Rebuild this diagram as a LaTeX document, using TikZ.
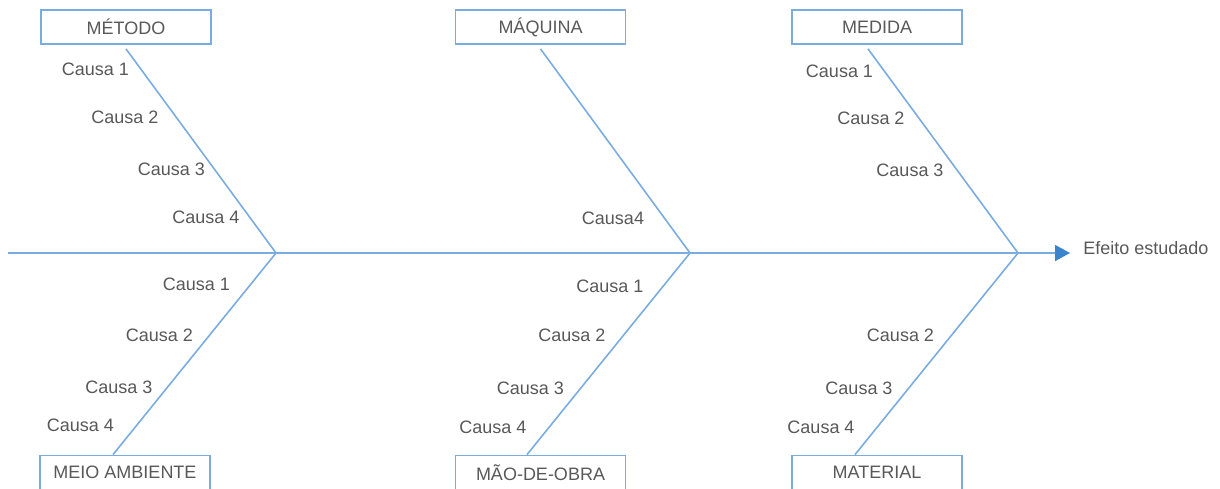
\documentclass[tikz,border=0pt]{standalone}
\definecolor{boneBlue}{RGB}{122,172,224}
\definecolor{headBlue}{RGB}{58,132,205}
\definecolor{textGray}{RGB}{88,88,88}
\usepackage{fontspec}
\setmainfont{Liberation Sans}
\usepackage{tikz}
\usetikzlibrary{arrows.meta,positioning}

\begin{document}
\begin{tikzpicture}[x=0.5pt,y=-0.5pt,
    catbox/.style={draw=boneBlue, line width=0.9pt, minimum width=85pt, minimum height=17pt,
                   inner sep=0pt, font=\fontsize{9}{11}\selectfont, text=textGray},
    causa/.style={font=\fontsize{9}{11}\selectfont, text=textGray, inner sep=0pt},
    bone/.style={draw=boneBlue, line width=0.8pt}]
      \useasboundingbox (0,0) rectangle (1220,488);
      % Categories
      \node[catbox] (metodo) at (126,27) {MÉTODO};
      \node[catbox] (maquina) at (540.5,27) {MÁQUINA};
      \node[catbox] (medida) at (877,27) {MEDIDA};
      \node[catbox] (meio) at (125,472.5) {MEIO AMBIENTE};
      \node[catbox] (mao) at (540.5,472.5) {MÃO-DE-OBRA};
      \node[catbox] (material) at (877,472.5) {MATERIAL};
      % Spine
      \coordinate (cauda) at (8,253);
      \coordinate (j1) at (276,253);
      \coordinate (j2) at (690,253);
      \coordinate (j3) at (1018,253);
      \node[causa, anchor=west] (efeito) at (1083,248.5) {Efeito estudado};
      \draw[bone, -{Triangle[length=7.5pt,width=8pt,color=headBlue]}]
        (cauda) -- ([xshift=-6.5pt]cauda -| efeito.west);
      % Bones
      \draw[bone] ([yshift=-2pt]metodo.south) -- (j1);
      \draw[bone] ([yshift=-2pt]maquina.south) -- (j2);
      \draw[bone] ([xshift=-4.5pt,yshift=-2pt]medida.south) -- (j3);
      \draw[bone] (j1) -- ([xshift=-6pt]meio.north);
      \draw[bone] (j2) -- ([xshift=-6.75pt]mao.north);
      \draw[bone] (j3) -- ([xshift=-11pt]material.north);
      % Causes
      \node[causa] (me1) at (95.5,69.5) {Causa 1};
      \node[causa] (me2) at (125,117.5) {Causa 2};
      \node[causa] (me3) at (171.5,169) {Causa 3};
      \node[causa] (me4) at (206,217.5) {Causa 4};
      \node[causa] (mq4) at (613,218.5) {Causa4};
      \node[causa] (md1) at (839.5,71.5) {Causa 1};
      \node[causa] (md2) at (871,118) {Causa 2};
      \node[causa] (md3) at (910,170) {Causa 3};
      \node[causa] (ma1) at (196.5,284.5) {Causa 1};
      \node[causa] (ma2) at (159.5,335.5) {Causa 2};
      \node[causa] (ma3) at (119,387) {Causa 3};
      \node[causa] (ma4) at (80.5,425.5) {Causa 4};
      \node[causa] (mo1) at (610,286.5) {Causa 1};
      \node[causa] (mo2) at (572,335.5) {Causa 2};
      \node[causa] (mo3) at (530.5,388) {Causa 3};
      \node[causa] (mo4) at (493,427.5) {Causa 4};
      \node[causa] (mt2) at (900.5,335.5) {Causa 2};
      \node[causa] (mt3) at (859,388) {Causa 3};
      \node[causa] (mt4) at (821,427) {Causa 4};
    \end{tikzpicture}
\end{document}
